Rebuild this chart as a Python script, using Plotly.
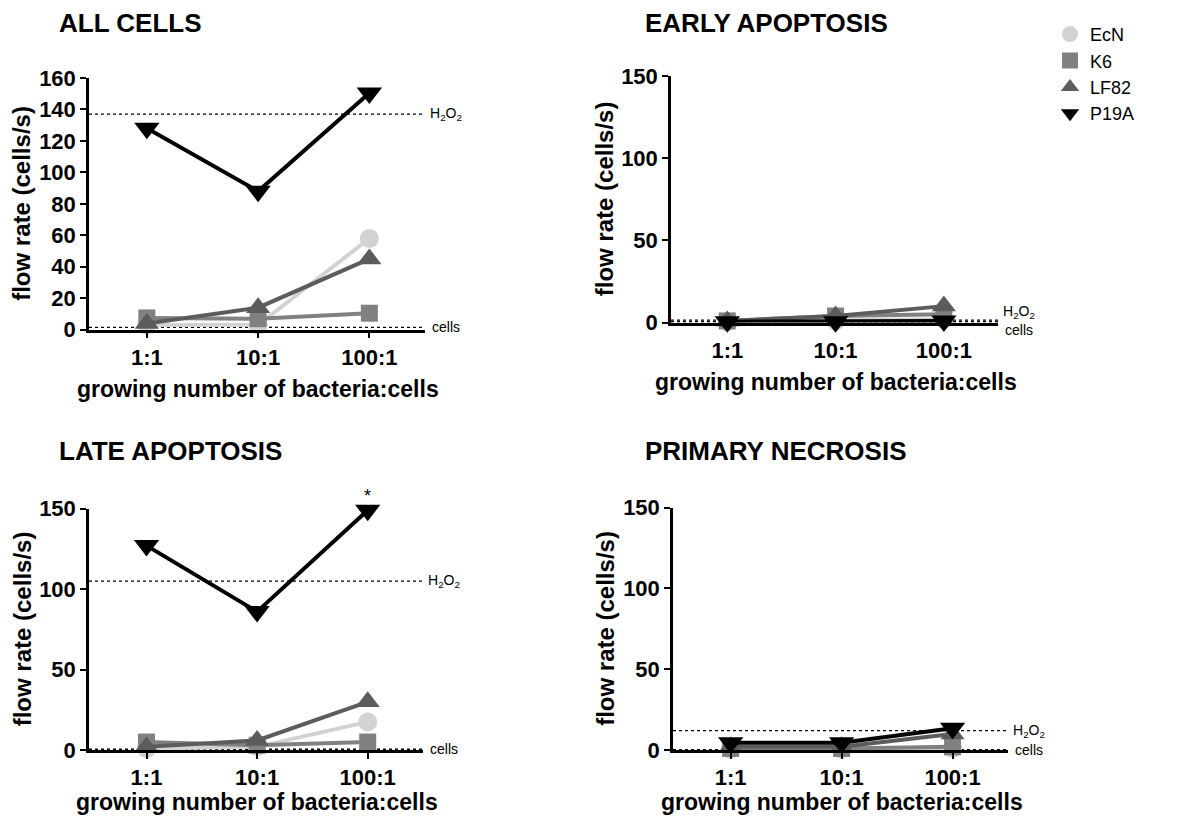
import plotly.graph_objects as go

categories = ["1:1", "10:1", "100:1"]
strains = ["EcN", "K6", "LF82", "P19A"]
panel_titles = ["ALL CELLS", "EARLY APOPTOSIS", "LATE APOPTOSIS", "PRIMARY NECROSIS"]

# ALL CELLS
all_EcN = [3, 3, 58]
all_K6 = [7.5, 7, 10.5]
all_LF82 = [4, 14, 45]
all_P19A = [128, 88, 150.5]
all_H2O2 = 137
all_cells = 1.5

# EARLY APOPTOSIS
early_EcN = [0.5, 1, 2]
early_K6 = [1, 4, 5]
early_LF82 = [1, 4, 10]
early_P19A = [0.5, 0.5, 1]
early_H2O2 = 1.5
early_cells = 0.5

# LATE APOPTOSIS
late_EcN = [1, 2, 17.5]
late_K6 = [5, 3, 5]
late_LF82 = [2, 6, 30]
late_P19A = [127, 86, 149]
late_H2O2 = 105
late_cells = 0.5

# PRIMARY NECROSIS
necro_EcN = [0.5, 0.5, 1]
necro_K6 = [1, 1, 2]
necro_LF82 = [2, 2, 10]
necro_P19A = [4.5, 4.5, 13.5]
necro_H2O2 = 12
necro_cells = 0.3

panels = [
    dict(data=[all_EcN, all_K6, all_LF82, all_P19A], h2o2=all_H2O2, cells=all_cells,
         ymax=160, dtick=20),
    dict(data=[early_EcN, early_K6, early_LF82, early_P19A], h2o2=early_H2O2, cells=early_cells,
         ymax=150, dtick=50),
    dict(data=[late_EcN, late_K6, late_LF82, late_P19A], h2o2=late_H2O2, cells=late_cells,
         ymax=150, dtick=50),
    dict(data=[necro_EcN, necro_K6, necro_LF82, necro_P19A], h2o2=necro_H2O2, cells=necro_cells,
         ymax=150, dtick=50),
]

W, H = 1189, 830
# pixel boxes: (left, right, top, bottom)
boxes = [(89, 425, 68, 327.6), (671, 998, 66, 320.2),
         (89, 423, 512, 761), (673, 1008, 511, 761)]
title_pos = [(57, 11), (643, 11), (57, 453), (643, 453)]
xtitle_off = [61, 61, 54, 54]

colors = ["#d2d2d2", "#818181", "#5c5c5c", "#000000"]
symbols = ["circle", "square", "triangle-up", "triangle-down"]
msizes = [19, 17, 21, 22]

FONT = "Liberation Sans, Arial, sans-serif"

fig = go.Figure()
layout = dict(width=W, height=H, margin=dict(l=0, r=0, t=0, b=0),
              paper_bgcolor="white", plot_bgcolor="white", showlegend=True)
shapes, annotations = [], []

for i, p in enumerate(panels):
    n = "" if i == 0 else str(i + 1)
    xa, ya = "x" + n, "y" + n
    l, r, t, b = boxes[i]
    layout["xaxis" + n] = dict(domain=[l / W, r / W], anchor=ya, type="category",
                               range=[-0.52, 2.5], showline=True, linecolor="black",
                               linewidth=2.5, ticks="outside", ticklen=6, tickwidth=2,
                               tickcolor="black", showgrid=False, zeroline=False,
                               tickfont=dict(family=FONT, size=22, color="black", weight="bold"))
    layout["yaxis" + n] = dict(domain=[1 - b / H, 1 - t / H], anchor=xa,
                               range=[0, p["ymax"]], dtick=p["dtick"], showline=True,
                               linecolor="black", linewidth=2.5, ticks="outside", ticklen=6,
                               tickwidth=2, tickcolor="black", showgrid=False, zeroline=False,
                               tickfont=dict(family=FONT, size=22, color="black", weight="bold"))
    for k, vals in enumerate(p["data"]):
        fig.add_trace(go.Scatter(x=categories, y=vals, mode="lines+markers", xaxis=xa, yaxis=ya,
                                 line=dict(color=colors[k], width=4),
                                 marker=dict(symbol=symbols[k], size=msizes[k], color=colors[k]),
                                 cliponaxis=False, showlegend=False, name=strains[k]))
    for val in (p["h2o2"], p["cells"]):
        shapes.append(dict(type="line", xref=xa + " domain", yref=ya, x0=0, x1=1, y0=val, y1=val,
                           line=dict(color="black", width=1.3, dash="dot"), layer="below"))
    sh_h, sh_c = 0, 0
    if i == 1:
        sh_h, sh_c = 8, -8
    annotations.append(dict(xref=xa + " domain", yref=ya, x=1, y=p["h2o2"], xanchor="left",
                            yanchor="middle", xshift=3, yshift=sh_h, showarrow=False,
                            text="H<sub>2</sub>O<sub>2</sub>",
                            font=dict(family=FONT, size=14, color="black")))
    annotations.append(dict(xref=xa + " domain", yref=ya, x=1, y=p["cells"], xanchor="left",
                            yanchor="middle", xshift=5, yshift=sh_c, showarrow=False,
                            text="cells", font=dict(family=FONT, size=14, color="black")))
    # panel title
    tx, ty = title_pos[i]
    annotations.append(dict(xref="paper", yref="paper", x=tx / W, y=1 - ty / H,
                            xanchor="left", yanchor="middle", showarrow=False, text=panel_titles[i],
                            font=dict(family=FONT, size=26, color="black", weight="bold")))
    # y-axis title
    annotations.append(dict(xref="paper", yref="paper", x=(l - 67) / W, y=1 - ((t + b) / 2) / H,
                            xanchor="center", yanchor="middle", textangle=-90, showarrow=False,
                            text="flow rate (cells/s)",
                            font=dict(family=FONT, size=24, color="black", weight="bold")))
    # x-axis title
    annotations.append(dict(xref="paper", yref="paper", x=((l + r) / 2 + 1) / W,
                            y=1 - (b + xtitle_off[i]) / H,
                            xanchor="center", yanchor="middle", showarrow=False,
                            text="growing number of bacteria:cells",
                            font=dict(family=FONT, size=23, color="black", weight="bold")))

annotations.append(dict(xref="x3", yref="y3", x="100:1", y=late_P19A[2], yshift=14,
                        showarrow=False, text="*", font=dict(family=FONT, size=18, color="black")))

for k in range(4):
    fig.add_trace(go.Scatter(x=[None], y=[None], mode="markers", name=strains[k],
                             marker=dict(symbol=symbols[k], size=msizes[k], color=colors[k]),
                             showlegend=True))

layout["legend"] = dict(x=1050 / W, y=1 - 4 / H, xanchor="left", yanchor="top",
                        font=dict(family=FONT, size=18, color="black"),
                        bgcolor="rgba(0,0,0,0)", itemsizing="trace", tracegroupgap=0)
layout["shapes"] = shapes
layout["annotations"] = annotations
fig.update_layout(**layout)
fig.write_html("out.html")
